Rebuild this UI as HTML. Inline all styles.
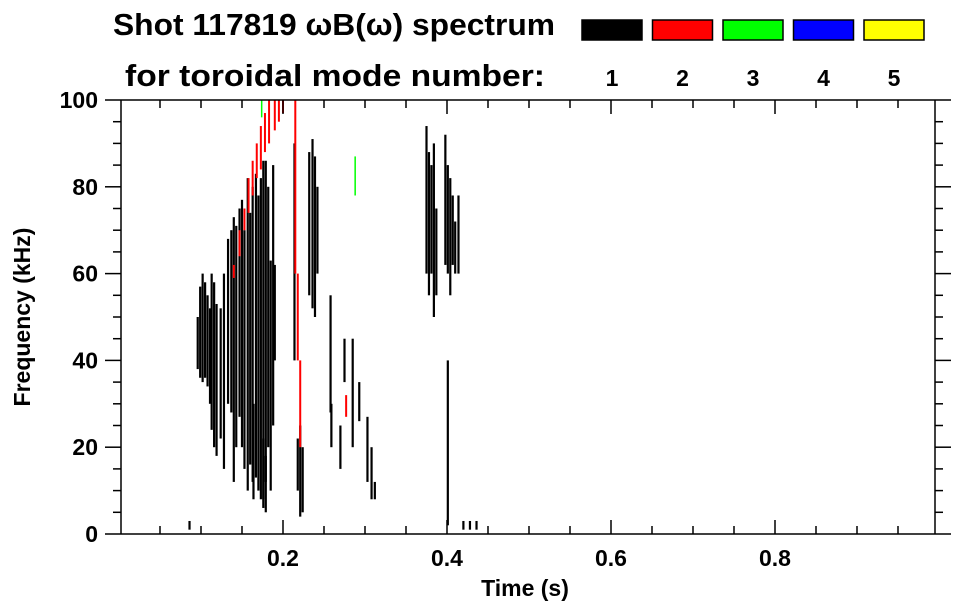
<!DOCTYPE html>
<html><head><meta charset="utf-8"><style>
body{margin:0;background:#fff;}
svg{display:block;font-family:"Liberation Sans",sans-serif;font-weight:bold;}
</style></head><body>
<svg width="963" height="615" viewBox="0 0 963 615">
<text x="113" y="35" font-size="31" textLength="442" lengthAdjust="spacingAndGlyphs">Shot 117819 ωB(ω) spectrum</text>
<text x="125" y="86" font-size="31" textLength="420" lengthAdjust="spacingAndGlyphs">for toroidal mode number:</text>
<g id="legend"></g>
<g id="marks"></g>
<g id="axes" stroke="#000" stroke-width="1.5" fill="none"></g>
<g id="labels" font-size="23"></g>
<text x="525" y="596" font-size="23" text-anchor="middle">Time (s)</text>
<text transform="translate(30,317) rotate(-90)" font-size="23" text-anchor="middle">Frequency (kHz)</text>
</svg>
<script>
const modeColors = ["#000000","#ff0000","#00ff00","#0000ff","#ffff00"];
const modeLabels = ["1","2","3","4","5"];
const xTicks = [0.2,0.4,0.6,0.8];
const yTicks = [0,20,40,60,80,100];
// segments: time (s), low freq (kHz), high freq (kHz)
const mode1T = [0.086,0.096,0.099,0.102,0.105,0.108,0.111,0.113,0.116,0.119,0.124,0.128,0.133,0.137,0.140,0.143,0.147,0.150,0.153,0.157,0.160,0.163,0.164,0.167,0.170,0.173,0.176,0.176,0.179,0.179,0.182,0.185,0.188,0.190,0.214,0.218,0.221,0.224,0.232,0.236,0.239,0.242,0.258,0.259,0.270,0.275,0.285,0.293,0.303,0.308,0.312,0.375,0.378,0.381,0.384,0.387,0.398,0.401,0.404,0.407,0.410,0.414,0.401,0.420,0.428,0.436];
const mode1Lo = [1,38,36,35,36,34,30,24,20,18,22,15,30,28,12,20,27,20,15,10,16,12,8,13,10,8,8,6,12,5,20,10,25,40,40,10,4,5,55,52,50,60,28,20,15,35,20,26,12,8,8,60,55,60,50,55,62,60,55,62,60,60,2,1,1,1];
const mode1Hi = [3,50,57,60,58,55,52,60,58,53,52,60,68,70,73,71,75,77,70,82,74,80,30,83,78,82,86,22,86,18,80,63,85,62,90,22,25,20,88,91,87,80,55,30,25,45,45,35,27,20,12,94,88,85,90,75,92,85,82,78,72,78,40,3,3,3];
const mode2T = [0.140,0.147,0.153,0.158,0.163,0.168,0.173,0.178,0.183,0.190,0.195,0.200,0.215,0.218,0.221,0.277];
const mode2Lo = [59,64,70,74,78,82,84,88,90,93,95,97,60,40,20,27];
const mode2Hi = [62,70,75,82,86,90,94,97,100,100,100,100,100,60,40,32];
const mode3T = [0.174,0.288];
const mode3Lo = [96,78];
const mode3Hi = [100,87];

const L=121,R=935,T=100,B=534;
const xs = t => 119 + t*820;
const ys = f => B - f*(B-T)/100;
const NS="http://www.w3.org/2000/svg";
function mk(tag,parent,attrs){const e=document.createElementNS(NS,tag);for(const k in attrs)e.setAttribute(k,attrs[k]);parent.appendChild(e);return e;}

const lg=document.getElementById('legend');
modeColors.forEach((c,i)=>{
  const x=582+i*70.5;
  const r=mk('rect',lg,{x:x,y:20,width:60,height:20,fill:c,stroke:'#000','stroke-width':1.5});
  
  
  const t=mk('text',lg,{x:x+30,y:86,'font-size':23,'text-anchor':'middle'});
  t.textContent=modeLabels[i];
  
  
});

const mg=document.getElementById('marks');
function drawSeries(T_,Lo,Hi,color,w,name){
  T_.forEach((t,i)=>{
    const r=mk('rect',mg,{x:xs(t)-w/2,y:ys(Hi[i]),width:w,height:ys(Lo[i])-ys(Hi[i]),fill:color});
    
    
  });
}
drawSeries(mode1T,mode1Lo,mode1Hi,modeColors[0],2.2,'mode-1-segment');
drawSeries(mode2T,mode2Lo,mode2Hi,modeColors[1],2,'mode-2-segment');
drawSeries(mode3T,mode3Lo,mode3Hi,modeColors[2],1.5,'mode-3-segment');

const ax=document.getElementById('axes');
mk('line',ax,{x1:105,y1:T,x2:951,y2:T});
mk('line',ax,{x1:105,y1:B,x2:951,y2:B});
mk('line',ax,{x1:L,y1:T,x2:L,y2:B});
mk('line',ax,{x1:R,y1:T,x2:R,y2:B});
for(let k=1;k<20;k++){const t=k*0.05,x=xs(t);const len=(k%4===0)?14:8;
  mk('line',ax,{x1:x,y1:B,x2:x,y2:B-len});mk('line',ax,{x1:x,y1:T,x2:x,y2:T+len});}
for(let k=1;k<20;k++){const y=ys(k*5);const len=(k%4===0)?16:8;
  mk('line',ax,{x1:L,y1:y,x2:L-len,y2:y});mk('line',ax,{x1:R,y1:y,x2:R+len,y2:y});}

const lb=document.getElementById('labels');
xTicks.forEach(v=>{const t=mk('text',lb,{x:xs(v),y:566,'text-anchor':'middle'});t.textContent=v.toFixed(1);
  });
yTicks.forEach(v=>{const t=mk('text',lb,{x:98,y:ys(v)+8,'text-anchor':'end'});t.textContent=v;
  });
</script>
</body></html>
